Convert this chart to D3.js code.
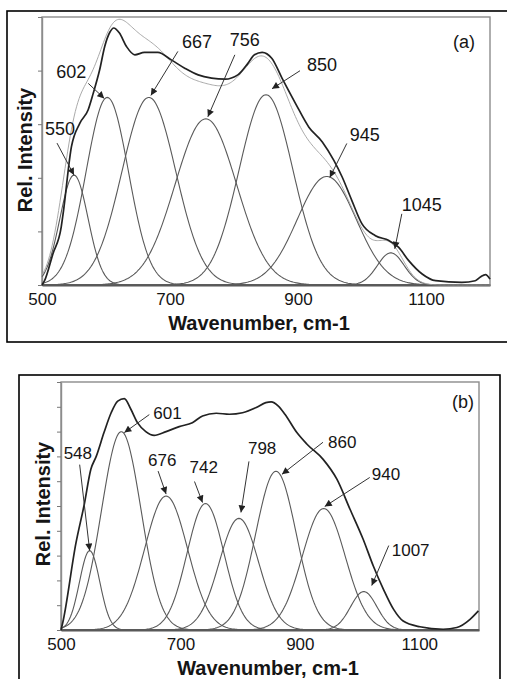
<!DOCTYPE html>
<html lang="en">
<head>
<meta charset="UTF-8">
<script src="https://d3js.org/d3.v7.min.js"></script>
<title>Deconvoluted spectra</title>
<style>
  body { margin: 0; background: #fff; }
  text { font-family: "Liberation Sans", Arial, sans-serif; fill: #151515; }
</style>
</head>
<body>
<div id="chart"></div>
<script>
// ---- panel (a) : fitted bands (centre, height, width) + measured spectrum
var peaksA   = [550, 602, 667, 756, 850, 945, 1045];
var heightsA = [0.41, 0.70, 0.70, 0.62, 0.71, 0.405, 0.12];
var widthsA  = [22, 33, 42, 48, 42, 46, 21];
var specXA = [500, 504, 517, 530, 533, 546, 559, 572, 580, 590, 598, 606, 612, 621, 632, 645, 660, 681,
              702, 723, 744, 765, 786, 806, 822, 832, 844, 859, 875, 896, 917, 938, 956, 969, 984,
              1000, 1021, 1042, 1057, 1073, 1094, 1115, 1156, 1177, 1185, 1193, 1200];
var specYA = [0.0, 0.016, 0.116, 0.216, 0.266, 0.516, 0.603, 0.653, 0.715, 0.802, 0.890, 0.943, 0.959, 0.940, 0.890, 0.859, 0.868, 0.868,
              0.840, 0.809, 0.784, 0.772, 0.768, 0.784, 0.828, 0.859, 0.868, 0.846, 0.772, 0.678, 0.589, 0.534, 0.465, 0.403, 0.316,
              0.228, 0.184, 0.166, 0.141, 0.091, 0.041, 0.016, 0.010, 0.016, 0.030, 0.039, 0.022];

// ---- panel (b)
var peaksB   = [548, 601, 676, 742, 798, 860, 940, 1007];
var heightsB = [0.32, 0.80, 0.54, 0.51, 0.45, 0.64, 0.49, 0.155];
var widthsB  = [17, 33, 36, 31, 33, 34, 36, 22];
var specXB = [500, 503, 525, 539, 550, 559, 572, 584, 595, 606, 617, 628, 642, 656, 676, 698, 720, 737,
              760, 782, 804, 827, 843, 852, 864, 875, 895, 912, 939, 962, 984, 1006, 1023, 1040,
              1057, 1073, 1101, 1140, 1163, 1185, 1199];
var specYB = [0.0, 0.03, 0.35, 0.507, 0.648, 0.70, 0.796, 0.876, 0.923, 0.933, 0.89, 0.836, 0.80, 0.785, 0.80, 0.82, 0.836, 0.863,
              0.874, 0.87, 0.876, 0.897, 0.917, 0.92, 0.903, 0.87, 0.796, 0.749, 0.688, 0.608, 0.487, 0.366, 0.258, 0.164,
              0.083, 0.036, 0.013, 0.003, 0.01, 0.043, 0.077];

var xTicks = [500, 700, 900, 1100];

// label placement (pixel offsets from each band's peak): tip, line start, text
var layoutA = [
  {tip: [0, 0],  from: [-17, -32], text: [-29, -40]},
  {tip: [-3, 1], from: [-19, -14], text: [-51, -19]},
  {tip: [2, -2], from: [29, -46],  text: [33, -49]},
  {tip: [2, -2], from: [29, -64],  text: [24, -73]},
  {tip: [6, -6], from: [34, -24],  text: [41, -24]},
  {tip: [3, 1],  from: [20, -33],  text: [23, -35]},
  {tip: [4, -4], from: [11, -39],  text: [11, -42]}
];
var layoutB = [
  {tip: [0, 0],  from: [-10, -86], text: [-26, -92]},
  {tip: [3, 1],  from: [28, -17],  text: [32, -13]},
  {tip: [0, -2], from: [-8, -25],  text: [-18, -30]},
  {tip: [-3, -1], from: [-11, -22], text: [-16, -31]},
  {tip: [2, -6], from: [10, -57],  text: [9, -64]},
  {tip: [6, 3],  from: [47, -29],  text: [52, -23]},
  {tip: [1, -2], from: [46, -31],  text: [48, -28]},
  {tip: [8, -6], from: [25, -46],  text: [28, -36]}
];

var svg = d3.select("#chart").append("svg")
    .attr("width", 507)
    .attr("height", 679);

svg.append("defs").append("marker")
    .attr("id", "arrow")
    .attr("viewBox", "0 0 10 10")
    .attr("refX", 10).attr("refY", 5)
    .attr("markerUnits", "userSpaceOnUse")
    .attr("markerWidth", 8).attr("markerHeight", 7)
    .attr("orient", "auto")
  .append("path")
    .attr("d", "M0,0L10,5L0,10z")
    .attr("fill", "#222");

function band(c, h, w) {
  var pts = [];
  for (var v = 500; v <= 1200; v += 2) {
    pts.push([v, h * Math.exp(-(v - c) * (v - c) / (2 * w * w))]);
  }
  return pts;
}

function drawPanel(o) {
  // outer frame
  svg.append("rect")
      .attr("x", o.box[0]).attr("y", o.box[1])
      .attr("width", o.box[2] - o.box[0]).attr("height", o.box[3] - o.box[1])
      .attr("fill", "none").attr("stroke", "#000").attr("stroke-width", 1.6);

  var x = d3.scaleLinear().domain([500, 1200]).range([o.left, o.right]);
  var y = d3.scaleLinear().domain([0, 1]).range([o.bottom, o.top]);

  var g = svg.append("g");

  // plot frame
  g.append("rect")
      .attr("x", o.left).attr("y", o.top)
      .attr("width", o.right - o.left).attr("height", o.bottom - o.top)
      .attr("fill", "none").attr("stroke", "#8c8c8c").attr("stroke-width", 1.4);

  var ya = g.append("g")
      .attr("transform", "translate(" + o.left + ",0)")
      .call(d3.axisLeft(y).ticks(o.yTicks).tickSizeInner(4).tickSizeOuter(0).tickFormat(""));
  ya.select(".domain").attr("stroke", "#8c8c8c").attr("stroke-width", 1.4);
  ya.selectAll(".tick line").attr("stroke", "#777");

  var xa = g.append("g")
      .attr("transform", "translate(0," + o.bottom + ")")
      .call(d3.axisBottom(x).tickValues(xTicks).tickSize(0).tickPadding(8).tickFormat(d3.format("d")));
  xa.select(".domain").attr("stroke", "#555").attr("stroke-width", 1.8);
  xa.selectAll("text")
      .attr("font-family", "Liberation Sans, Arial, sans-serif")
      .attr("font-size", 17).attr("fill", "#151515");

  var line = d3.line()
      .x(function(d) { return x(d[0]); })
      .y(function(d) { return y(d[1]); });

  // bands
  o.peaks.forEach(function(c, i) {
    g.append("path")
        .datum(band(c, o.heights[i], o.widths[i]))
        .attr("fill", "none")
        .attr("stroke", "#5a5a5a")
        .attr("stroke-width", 1.1)
        .attr("d", line);
  });

  // sum of bands
  if (o.showSum) {
    var sum = band(0, 0, 1).map(function(p) {
      var s = 0;
      o.peaks.forEach(function(c, i) {
        s += o.heights[i] * Math.exp(-(p[0] - c) * (p[0] - c) / (2 * o.widths[i] * o.widths[i]));
      });
      return [p[0], s];
    });
    g.append("path")
        .datum(sum)
        .attr("fill", "none")
        .attr("stroke", "#a0a0a0")
        .attr("stroke-width", 0.9)
        .attr("d", line);
  }

  // measured spectrum
  g.append("path")
      .datum(o.specX.map(function(v, i) { return [v, o.specY[i]]; }))
      .attr("fill", "none")
      .attr("stroke", "#222")
      .attr("stroke-width", 1.7)
      .attr("d", line.curve(d3.curveMonotoneX));

  // peak labels with arrows
  o.peaks.forEach(function(c, i) {
    var px = x(c), py = y(o.heights[i]), L = o.layout[i];
    g.append("line")
        .attr("x1", px + L.from[0]).attr("y1", py + L.from[1])
        .attr("x2", px + L.tip[0]).attr("y2", py + L.tip[1])
        .attr("stroke", "#333").attr("stroke-width", 1)
        .attr("marker-end", "url(#arrow)");
    g.append("text")
        .attr("x", px + L.text[0]).attr("y", py + L.text[1])
        .attr("font-size", o.labelSize)
        .text(c);
  });

  g.append("text")
      .attr("x", o.tag[0]).attr("y", o.tag[1])
      .attr("font-size", 18)
      .text(o.name);

  g.append("text")
      .attr("transform", "translate(" + o.ylab[0] + "," + o.ylab[1] + ") rotate(-90)")
      .attr("text-anchor", "middle")
      .attr("font-size", 20).attr("font-weight", "bold")
      .text("Rel. Intensity");

  g.append("text")
      .attr("x", o.xlab[0]).attr("y", o.xlab[1])
      .attr("text-anchor", "middle")
      .attr("font-size", 20).attr("font-weight", "bold")
      .text("Wavenumber, cm-1");
}

drawPanel({
  box: [7, 11, 512, 342], left: 42, right: 490, top: 17, bottom: 285, yTicks: 5,
  peaks: peaksA, heights: heightsA, widths: widthsA, specX: specXA, specY: specYA,
  layout: layoutA, labelSize: 18, showSum: true, name: "(a)", tag: [453, 48],
  ylab: [32, 150], xlab: [259, 330]
});

drawPanel({
  box: [19, 375, 500, 682], left: 61, right: 479, top: 382, bottom: 630, yTicks: 10,
  peaks: peaksB, heights: heightsB, widths: widthsB, specX: specXB, specY: specYB,
  layout: layoutB, labelSize: 17, showSum: false, name: "(b)", tag: [452, 408],
  ylab: [50, 504], xlab: [268, 675]
});
</script>
</body>
</html>
